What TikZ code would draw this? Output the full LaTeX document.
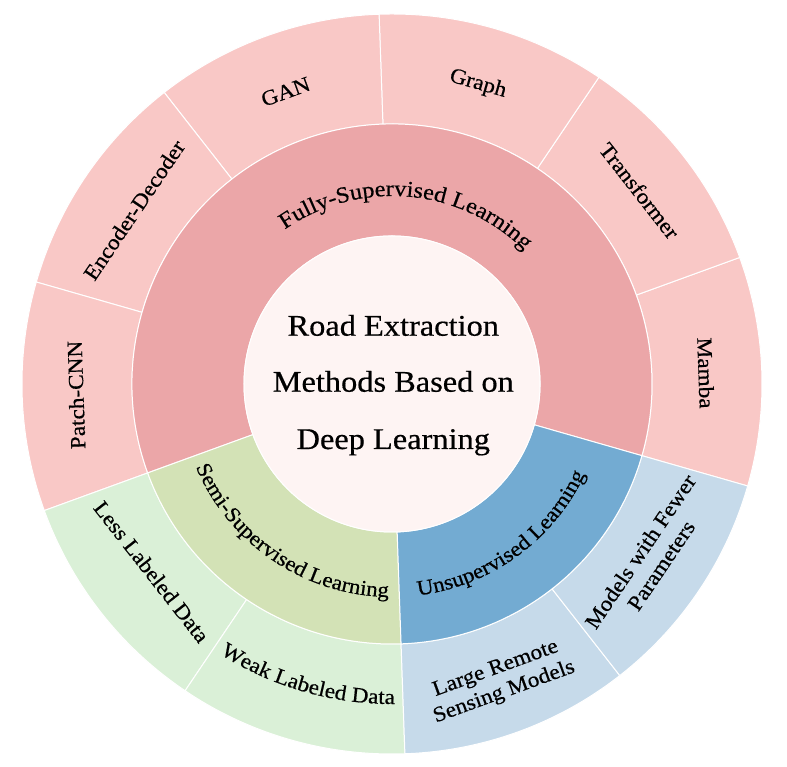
\documentclass[tikz,border=0pt]{standalone}
\usepackage{fontspec}
\setmainfont{Liberation Serif}[FakeStretch=1.08,FakeBold=0.5]
\usetikzlibrary{decorations.text}
\definecolor{outerP}{HTML}{F9C8C6}
\definecolor{midP}{HTML}{EBA6A8}
\definecolor{centerC}{HTML}{FEF4F3}
\definecolor{midG}{HTML}{D3E2B6}
\definecolor{outerG}{HTML}{DAF0D7}
\definecolor{midB}{HTML}{73ABD2}
\definecolor{outerB}{HTML}{C6DAEA}
\newcommand{\ringseg}[5]{%
  \fill[#1, draw=white, line width=1pt] (#2:#4) arc[start angle=#2, end angle=#3, radius=#4] -- (#3:#5) arc[start angle=#3, end angle=#2, radius=#5] -- cycle;}
\newcommand{\fullfont}{\fontsize{22.5}{26}\selectfont}
\newcommand{\midfont}{\fontsize{21.3}{25}\selectfont}
\newcommand{\outfont}{\fontsize{21.5}{25}\selectfont}
\tikzset{
  outlabel/.style={font=\outfont, inner sep=0pt, align=center},
  ctext/.style={font=\fontsize{30}{36}\selectfont, inner sep=0pt, anchor=base},
  curvlabel/.style={decorate, decoration={text along path, text align=center, text={#1}}}
}
\begin{document}
\begin{tikzpicture}
\fill[white] (-392pt,-383pt) rectangle (395pt,384pt);
\useasboundingbox (-392pt,-383pt) rectangle (395pt,384pt);
% outer ring
\ringseg{outerP}{-16}{20}{260pt}{370pt}
\ringseg{outerP}{20}{56}{260pt}{370pt}
\ringseg{outerP}{56}{92}{260pt}{370pt}
\ringseg{outerP}{92}{128}{260pt}{370pt}
\ringseg{outerP}{128}{164}{260pt}{370pt}
\ringseg{outerP}{164}{200}{260pt}{370pt}
\ringseg{outerG}{200}{236}{260pt}{370pt}
\ringseg{outerG}{236}{272}{260pt}{370pt}
\ringseg{outerB}{272}{308}{260pt}{370pt}
\ringseg{outerB}{308}{344}{260pt}{370pt}
% middle ring
\ringseg{midP}{-16}{200}{148pt}{260pt}
\ringseg{midG}{200}{272}{148pt}{260pt}
\ringseg{midB}{272}{344}{148pt}{260pt}
% center
\fill[centerC, draw=white, line width=1pt] (0,0) circle[radius=148pt];
\node[ctext] (c1) at (1.3pt,48.3pt) {Road Extraction};
\node[ctext] (c2) at (1.3pt,-7.7pt) {Methods Based on};
\node[ctext] (c3) at (1.3pt,-65pt) {Deep Learning};
% middle labels
\path[curvlabel={|\fullfont|Fully-Supervised Learning}] (150:188pt) arc[start angle=150, end angle=20, radius=188pt];
\path[curvlabel={|\midfont|Semi-Supervised Learning}] (200:213pt) arc[start angle=200, end angle=272, radius=213pt];
\path[curvlabel={|\midfont|Unsupervised Learning}] (270:213pt) arc[start angle=270, end angle=342, radius=213pt];
% outer labels
\node[outlabel, rotate=-88] (mamba) at (2:314pt) {Mamba};
\node[outlabel, rotate=-52] (trans) at (38:314pt) {Transformer};
\node[outlabel, rotate=-16] (graph) at (74:312pt) {Graph};
\node[outlabel, rotate=20] (gan) at (110:311pt) {GAN};
\node[outlabel, rotate=56] (encdec) at (146:311pt) {Encoder-Decoder};
\node[outlabel, rotate=92] (patch) at (182:316pt) {Patch-CNN};
\node[outlabel, rotate=-52] (less) at (218:305pt) {Less Labeled Data};
\path[curvlabel={|\outfont|Weak Labeled Data}] (236:320pt) arc[start angle=236, end angle=272, radius=320pt];
\node[outlabel, rotate=20] (large) at (290:316pt) {Large Remote\\Sensing Models};
\node[outlabel, rotate=56] (fewer) at (326:312pt) {Models with Fewer\\Parameters};
\end{tikzpicture}
\end{document}
